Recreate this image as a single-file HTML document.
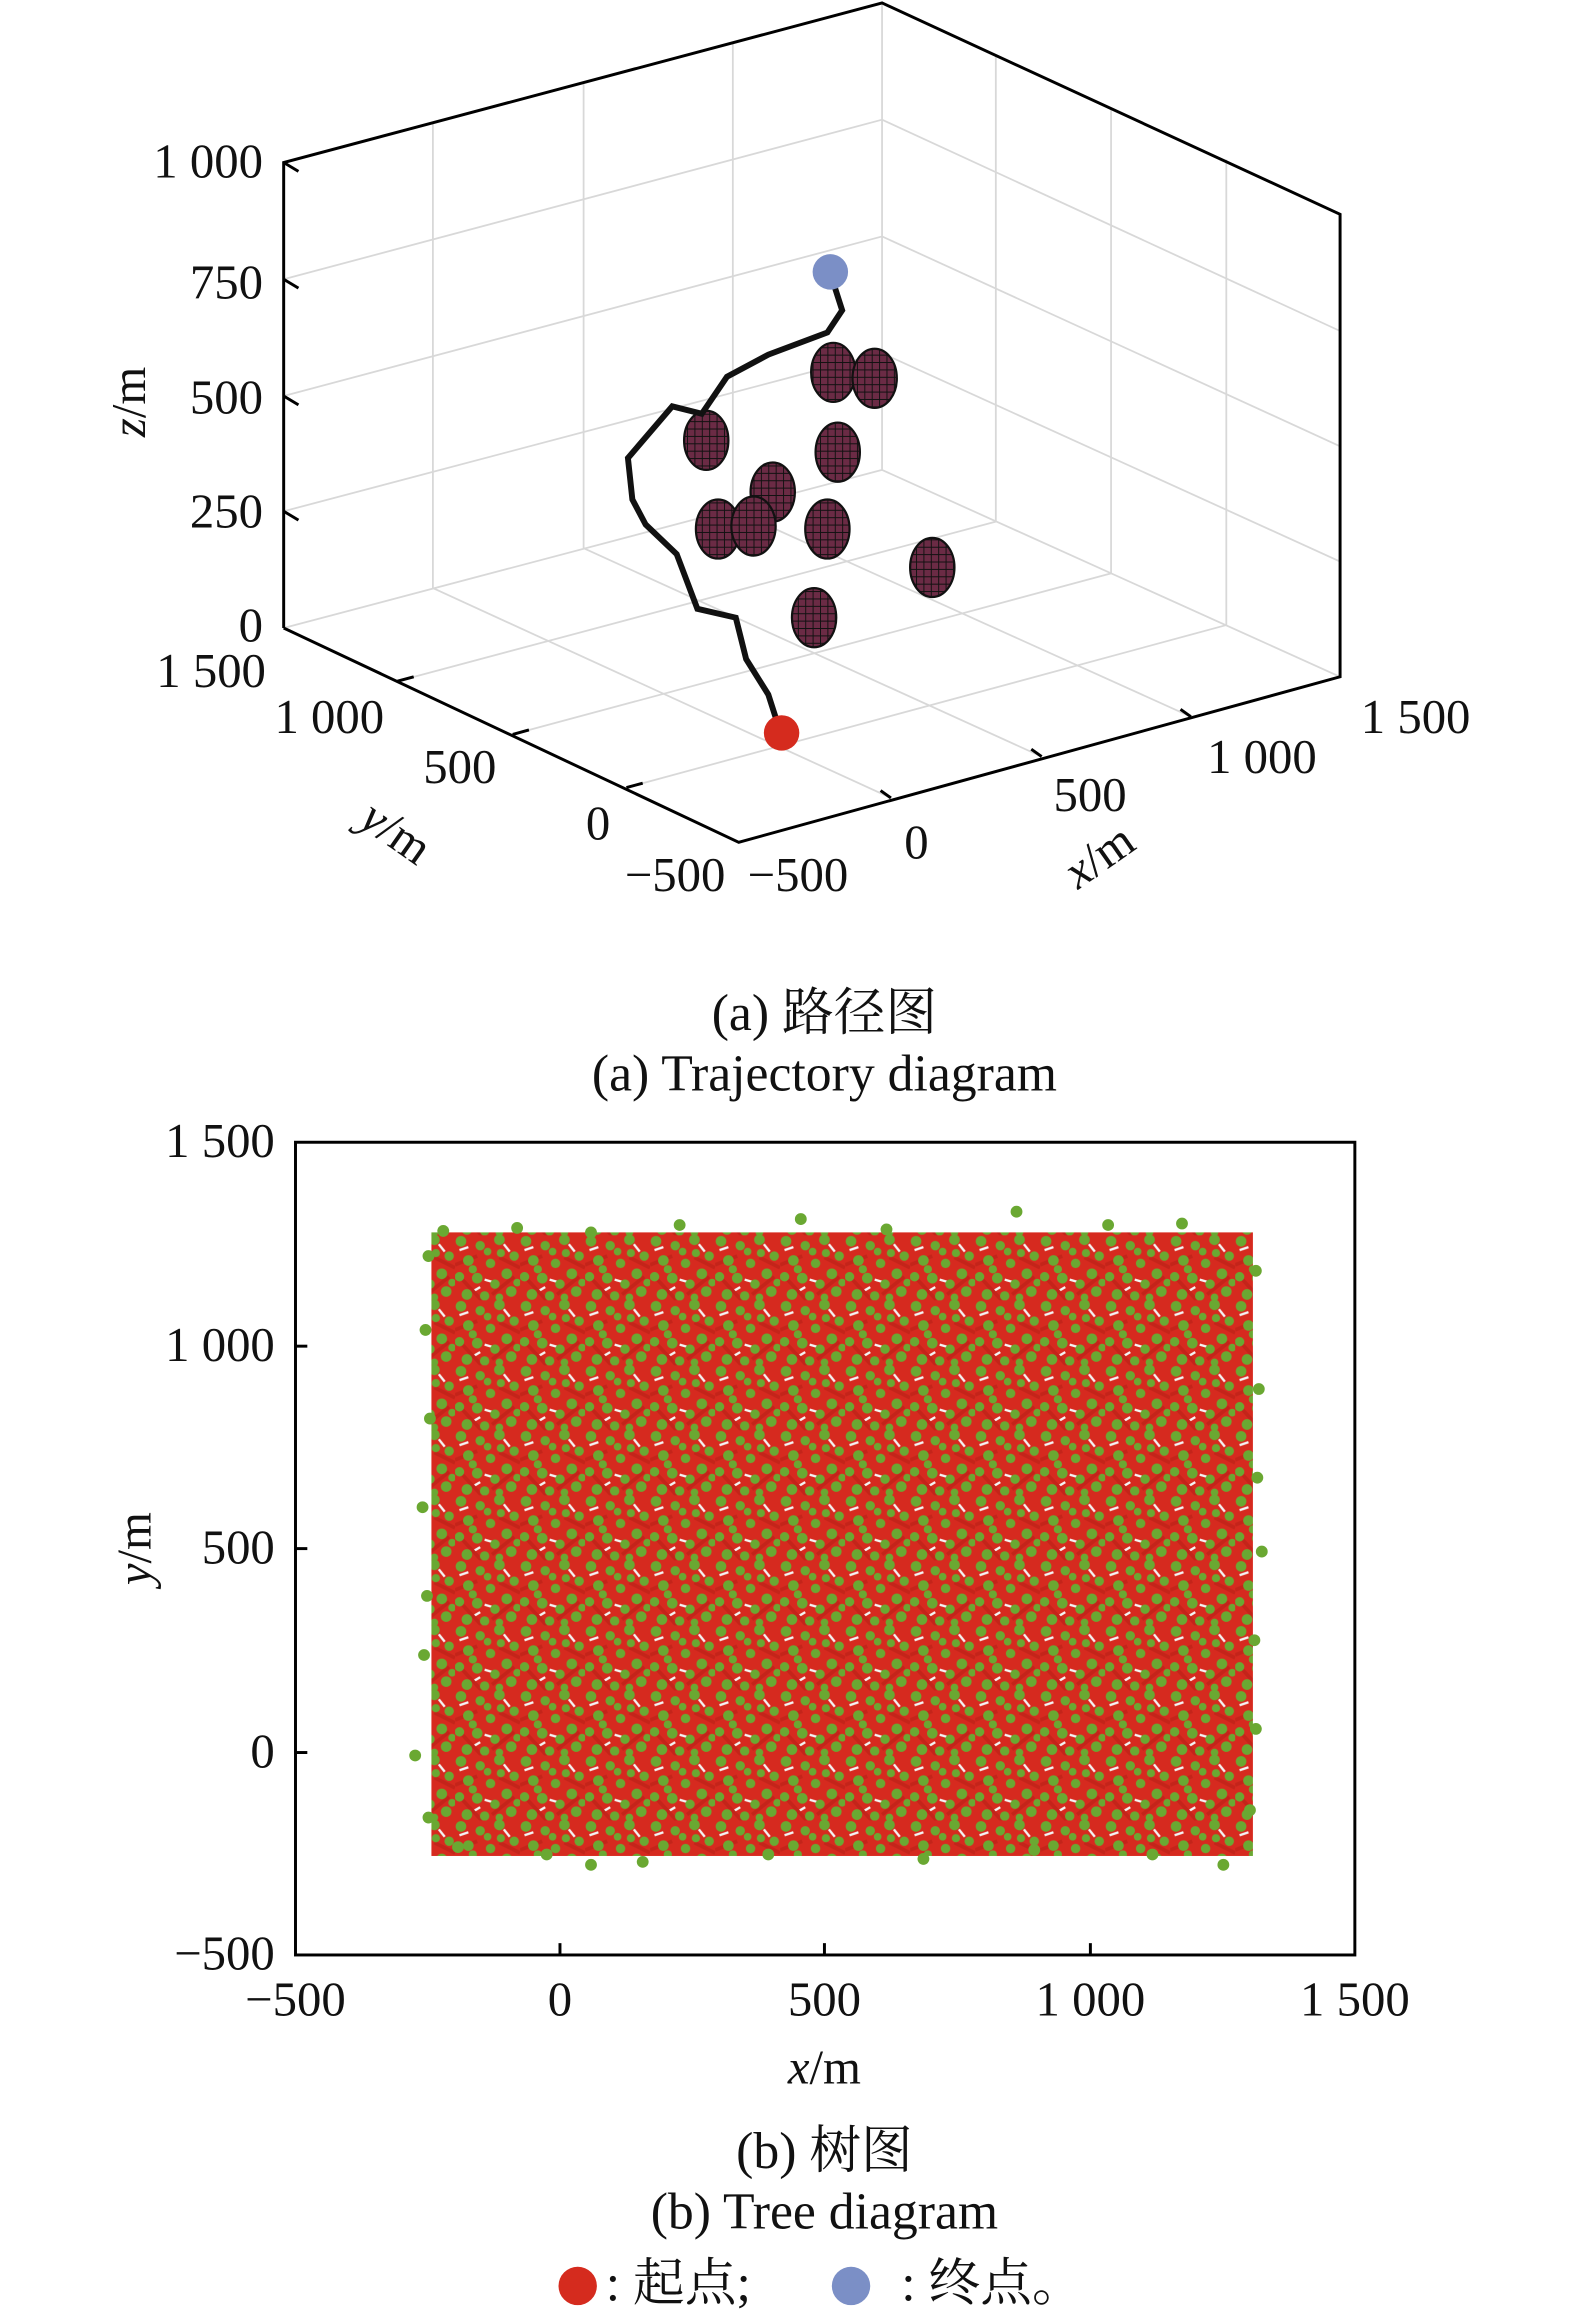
<!DOCTYPE html>
<html><head><meta charset="utf-8"><style>
html,body{margin:0;padding:0;background:#fff;}
svg{display:block;}
text{font-family:"Liberation Serif","Noto Serif CJK SC",serif;fill:#111;}
</style></head><body>
<svg width="1575" height="2317" viewBox="0 0 1066 1568" preserveAspectRatio="none" xmlns="http://www.w3.org/2000/svg">
<rect width="1066" height="1568" fill="#fff"/>
<defs>
<pattern id="mesh" width="5" height="5" patternUnits="userSpaceOnUse"><rect width="5" height="5" fill="#6b2b45"/><path d="M0 0H5M0 0V5" stroke="#111" stroke-width="1.3"/></pattern>
<pattern id="tr" width="44" height="44" patternUnits="userSpaceOnUse">
<rect width="44" height="44" fill="#d62a1f"/>
<path d="M3 10l6 -2M20 30l7 2M33 6l4 5M12 38l5 -3" stroke="#f4f4f4" stroke-width="1.6"/>
<path d="M0 20L15 14M25 40L40 28M30 15L44 22M5 30L18 44" stroke="#c4241a" stroke-width="2.5"/>
<g fill="#6aa832">
<circle cx="4" cy="4" r="3.6"/><circle cx="17" cy="7" r="3.2"/><circle cx="30" cy="3" r="3.6"/>
<circle cx="40" cy="14" r="3.2"/><circle cx="9" cy="17" r="3.6"/><circle cx="24" cy="19" r="3.2"/>
<circle cx="35" cy="26" r="3.6"/><circle cx="3" cy="28" r="3.2"/><circle cx="15" cy="29" r="3.6"/>
<circle cx="27" cy="33" r="3.2"/><circle cx="8" cy="40" r="3.6"/><circle cx="20" cy="41" r="3.2"/>
<circle cx="38" cy="38" r="3.6"/><circle cx="31" cy="12" r="2.8"/><circle cx="12" cy="23" r="2.8"/>
<circle cx="22" cy="11" r="2.6"/><circle cx="42" cy="32" r="2.6"/><circle cx="30" cy="42" r="2.6"/>
</g>
</pattern>
</defs>
<g stroke="#d8d8d8" stroke-width="1.2" fill="none">
<line x1="597" y1="2" x2="597" y2="318"/>
<line x1="597" y1="318" x2="192" y2="425"/>
<line x1="597" y1="318" x2="907" y2="458"/>
<line x1="293" y1="84" x2="293" y2="398"/>
<line x1="395" y1="57" x2="395" y2="371"/>
<line x1="496" y1="29" x2="496" y2="345"/>
<line x1="192" y1="189" x2="597" y2="81"/>
<line x1="192" y1="268" x2="597" y2="160"/>
<line x1="192" y1="346" x2="597" y2="239"/>
<line x1="674" y1="37" x2="674" y2="353"/>
<line x1="752" y1="73" x2="752" y2="388"/>
<line x1="830" y1="108" x2="830" y2="423"/>
<line x1="597" y1="81" x2="907" y2="224"/>
<line x1="597" y1="160" x2="907" y2="302"/>
<line x1="597" y1="239" x2="907" y2="380"/>
<line x1="293" y1="398" x2="603" y2="540"/>
<line x1="395" y1="371" x2="705" y2="512"/>
<line x1="496" y1="345" x2="806" y2="485"/>
<line x1="674" y1="353" x2="269" y2="461"/>
<line x1="752" y1="388" x2="347" y2="497"/>
<line x1="830" y1="423" x2="424" y2="533"/>
</g>
<polyline fill="none" stroke="#000" stroke-width="2" points="192,425 192,110 597,2 907,145 907,458 500,570 192,425"/>
<g stroke="#000" stroke-width="2">
<line x1="192" y1="110" x2="202" y2="116"/><line x1="192" y1="189" x2="202" y2="195"/>
<line x1="192" y1="268" x2="202" y2="274"/><line x1="192" y1="346" x2="202" y2="352"/>
<line x1="269" y1="461" x2="280" y2="458"/><line x1="347" y1="497" x2="358" y2="494"/>
<line x1="424" y1="533" x2="435" y2="530"/>
<line x1="603" y1="540" x2="596" y2="535"/><line x1="705" y1="512" x2="698" y2="507"/>
<line x1="806" y1="485" x2="799" y2="480"/>
</g>
<g font-size="33">
<text x="178" y="120" text-anchor="end">1 000</text>
<text x="178" y="202" text-anchor="end">750</text>
<text x="178" y="280" text-anchor="end">500</text>
<text x="178" y="357" text-anchor="end">250</text>
<text x="178" y="434" text-anchor="end">0</text>
<text x="180" y="465" text-anchor="end">1 500</text>
<text x="260" y="496" text-anchor="end">1 000</text>
<text x="336" y="530" text-anchor="end">500</text>
<text x="413" y="568" text-anchor="end">0</text>
<text x="491" y="603" text-anchor="end">−500</text>
<text x="506" y="603">−500</text>
<text x="612" y="581">0</text>
<text x="713" y="549">500</text>
<text x="817" y="523">1 000</text>
<text x="921" y="496">1 500</text>
<text transform="translate(98,272) rotate(-90)" text-anchor="middle"><tspan font-style="italic">z</tspan>/m</text>
<text transform="translate(262,572) rotate(35)" text-anchor="middle"><tspan font-style="italic">y</tspan>/m</text>
<text transform="translate(750,588) rotate(-35)" text-anchor="middle"><tspan font-style="italic">x</tspan>/m</text>
</g>
<g fill="url(#mesh)" stroke="#111" stroke-width="1.5">
<ellipse cx="564" cy="252" rx="15" ry="20"/><ellipse cx="592" cy="256" rx="15" ry="20"/>
<ellipse cx="478" cy="298" rx="15" ry="20"/><ellipse cx="567" cy="306" rx="15" ry="20"/>
<ellipse cx="523" cy="333" rx="15" ry="20"/><ellipse cx="486" cy="358" rx="15" ry="20"/>
<ellipse cx="510" cy="356" rx="15" ry="20"/><ellipse cx="560" cy="358" rx="15" ry="20"/>
<ellipse cx="631" cy="384" rx="15" ry="20"/><ellipse cx="551" cy="418" rx="15" ry="20"/>
</g>
<polyline fill="none" stroke="#111" stroke-width="4" points="528,495 520,470 505,446 498,418 472,412 458,375 437,355 428,338 425,310 455,275 475,280 492,255 520,240 560,225 570,210 562,185"/>
<circle cx="562" cy="184" r="12" fill="#7b8fc6"/>
<circle cx="529" cy="496" r="12" fill="#d52b1e"/>
<g font-size="35" text-anchor="middle">
<text x="558" y="697">(a) 路径图</text>
<text x="558" y="738">(a) Trajectory diagram</text>
</g>
<rect x="292" y="834" width="556" height="422" fill="url(#tr)"/>
<g fill="#6aa832">
<circle cx="290" cy="850" r="4"/><circle cx="288" cy="900" r="4"/><circle cx="291" cy="960" r="4"/><circle cx="286" cy="1020" r="4"/><circle cx="289" cy="1080" r="4"/><circle cx="287" cy="1120" r="4"/><circle cx="281" cy="1188" r="4"/><circle cx="290" cy="1230" r="4"/>
<circle cx="850" cy="860" r="4"/><circle cx="852" cy="940" r="4"/><circle cx="851" cy="1000" r="4"/><circle cx="854" cy="1050" r="4"/><circle cx="849" cy="1110" r="4"/><circle cx="850" cy="1170" r="4"/><circle cx="846" cy="1225" r="4"/>
<circle cx="300" cy="833" r="4"/><circle cx="350" cy="831" r="4"/><circle cx="400" cy="834" r="4"/><circle cx="460" cy="829" r="4"/><circle cx="542" cy="825" r="4"/><circle cx="600" cy="832" r="4"/><circle cx="688" cy="820" r="4"/><circle cx="750" cy="829" r="4"/><circle cx="800" cy="828" r="4"/>
<circle cx="310" cy="1250" r="4"/><circle cx="370" cy="1255" r="4"/><circle cx="400" cy="1262" r="4"/><circle cx="435" cy="1260" r="4"/><circle cx="520" cy="1255" r="4"/><circle cx="625" cy="1258" r="4"/><circle cx="700" cy="1252" r="4"/><circle cx="780" cy="1255" r="4"/><circle cx="828" cy="1262" r="4"/>
</g>
<rect x="200" y="773" width="717" height="550" fill="none" stroke="#000" stroke-width="2"/>
<g stroke="#000" stroke-width="2">
<line x1="379" y1="1323" x2="379" y2="1315"/><line x1="558" y1="1323" x2="558" y2="1315"/>
<line x1="738" y1="1323" x2="738" y2="1315"/>
<line x1="200" y1="911" x2="208" y2="911"/><line x1="200" y1="1048" x2="208" y2="1048"/>
<line x1="200" y1="1186" x2="208" y2="1186"/>
</g>
<g font-size="33">
<text x="186" y="783" text-anchor="end">1 500</text>
<text x="186" y="921" text-anchor="end">1 000</text>
<text x="186" y="1058" text-anchor="end">500</text>
<text x="186" y="1196" text-anchor="end">0</text>
<text x="186" y="1333" text-anchor="end">−500</text>
<text x="200" y="1364" text-anchor="middle">−500</text>
<text x="379" y="1364" text-anchor="middle">0</text>
<text x="558" y="1364" text-anchor="middle">500</text>
<text x="738" y="1364" text-anchor="middle">1 000</text>
<text x="917" y="1364" text-anchor="middle">1 500</text>
<text x="558" y="1410" text-anchor="middle"><tspan font-style="italic">x</tspan>/m</text>
<text transform="translate(102,1048) rotate(-90)" text-anchor="middle"><tspan font-style="italic">y</tspan>/m</text>
</g>
<g font-size="35">
<text x="558" y="1467" text-anchor="middle">(b) 树图</text>
<text x="558" y="1508" text-anchor="middle">(b) Tree diagram</text>
<circle cx="391" cy="1547" r="13" fill="#d52b1e"/>
<text x="410" y="1557">: 起点;</text>
<circle cx="576" cy="1547" r="13" fill="#7b8fc6"/>
<text x="610" y="1557">: 终点。</text>
</g>
</svg>
</body></html>
